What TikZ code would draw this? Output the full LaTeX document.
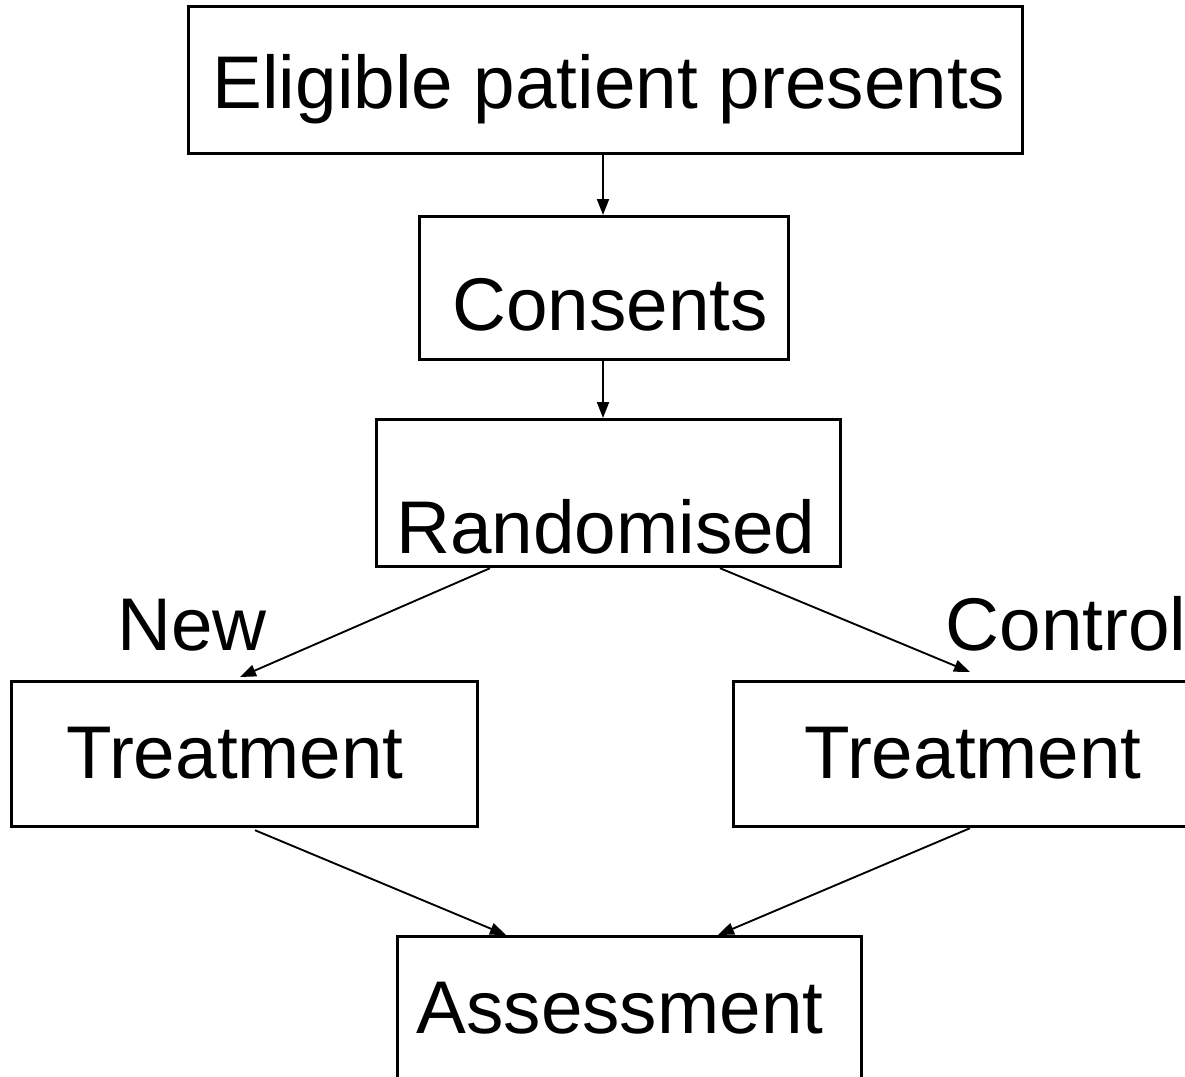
\documentclass[tikz,border=0pt]{standalone}
\usepackage{fontspec}
\setmainfont{Liberation Sans}
\usetikzlibrary{calc,arrows.meta}
\begin{document}
\begin{tikzpicture}[x=0.75pt,y=-0.75pt,
  box/.style={draw,line width=2.4pt,rectangle,inner sep=0pt,anchor=north west},
  txt/.style={inner sep=0pt,anchor=base,font=\fontsize{56}{60}\selectfont},
  arr/.style={line width=1.4pt,-{Triangle[length=12pt,width=9pt]}}]
\useasboundingbox (0,0) rectangle (1185,1076);
\clip (0,0) rectangle (1185,1076);
% boxes
\node[box,minimum width=834*0.75pt,minimum height=147*0.75pt] (elig) at (187,5) {};
\node[box,minimum width=369*0.75pt,minimum height=143*0.75pt] (cons) at (418,215) {};
\node[box,minimum width=464*0.75pt,minimum height=147*0.75pt] (rand) at (375,418) {};
\node[box,minimum width=466*0.75pt,minimum height=145*0.75pt] (newt) at (10,680) {};
\node[box,minimum width=480*0.75pt,minimum height=145*0.75pt] (ctlt) at (732,680) {};
\node[box,minimum width=464*0.75pt,minimum height=160*0.75pt] (asse) at (396,935) {};
% texts
\node[txt] (telig) at (609,108) {Eligible patient presents};
\node[txt] (tcons) at (610,330) {Consents};
\node[txt] (trand) at (606,553) {Randomised};
\node[txt] (tnew) at (192,650) {New};
\node[txt] (tctl) at (1066,650) {Control};
\node[txt] (tnewt) at (235,778) {Treatment};
\node[txt] (tctlt) at (973,778) {Treatment};
\node[txt] (tasse) at (620,1033) {Assessment};
% connectors
\draw[arr] ($(elig.south west)+(416,0)$) -- ($(cons.north west)+(185,0)$);
\draw[arr] ($(cons.south west)+(185,0)$) -- ($(rand.north west)+(228,0)$);
\draw[arr] ($(rand.south west)+(115,0)$) -- ($(newt.north west)+(230,-3)$);
\draw[arr] ($(rand.south west)+(345,0)$) -- ($(ctlt.north west)+(238,-8)$);
\draw[arr] ($(newt.south west)+(245,2)$) -- ($(asse.north west)+(110,0)$);
\draw[arr] ($(ctlt.south west)+(238,0)$) -- ($(asse.north west)+(322,0)$);
\end{tikzpicture}
\end{document}
